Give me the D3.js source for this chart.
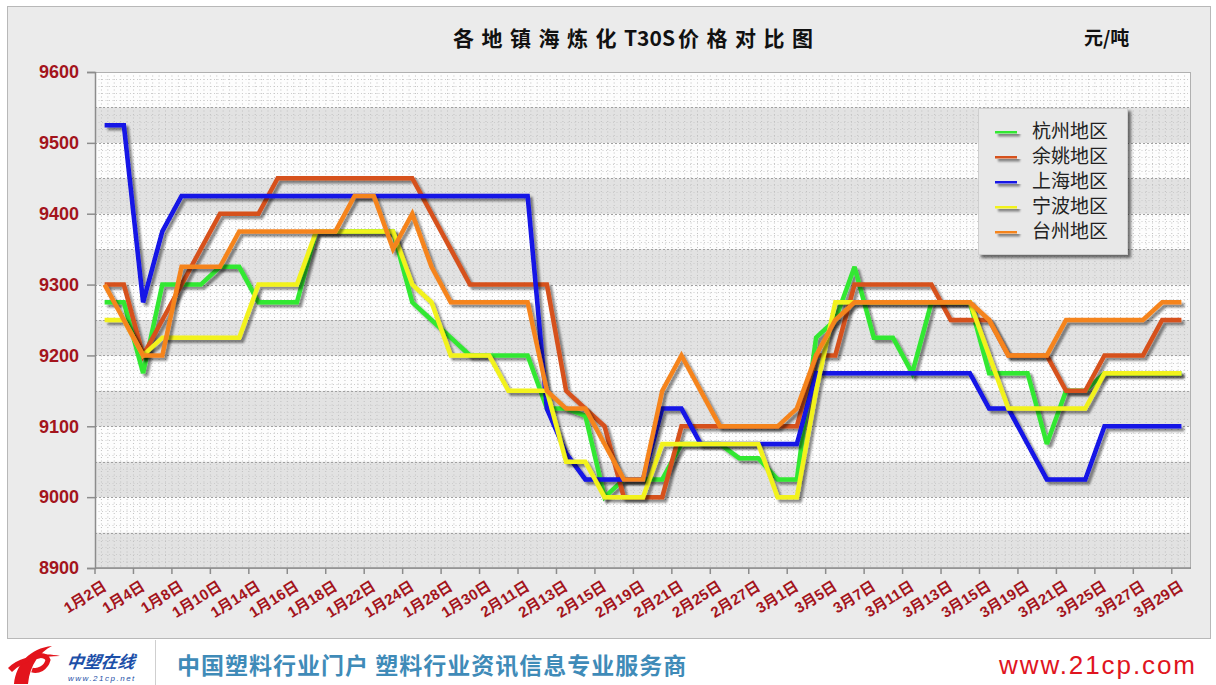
<!DOCTYPE html>
<html><head><meta charset="utf-8">
<script src="https://cdn.jsdelivr.net/npm/d3@7"></script>
<style>body{margin:0;background:#fff;} svg{display:block;}</style>
</head><body><svg id="c" width="1216" height="685"></svg>
<script>
const categories = ["1月2日","1月3日","1月4日","1月7日","1月8日","1月9日","1月10日","1月11日","1月14日","1月15日","1月16日","1月17日","1月18日","1月21日","1月22日","1月23日","1月24日","1月25日","1月28日","1月29日","1月30日","1月31日","2月11日","2月12日","2月13日","2月14日","2月15日","2月18日","2月19日","2月20日","2月21日","2月22日","2月25日","2月26日","2月27日","2月28日","3月1日","3月4日","3月5日","3月6日","3月7日","3月8日","3月11日","3月12日","3月13日","3月14日","3月15日","3月18日","3月19日","3月20日","3月21日","3月22日","3月25日","3月26日","3月27日","3月28日","3月29日"];
const seriesNames = ["杭州地区","余姚地区","上海地区","宁波地区","台州地区"];
const hangzhou = [9275,9275,9175,9300,9300,9300,9325,9325,9275,9275,9275,9375,9375,9375,9375,9375,9275,9250,9225,9200,9200,9200,9200,9125,9125,9115,9000,9025,9025,9025,9075,9075,9075,9055,9055,9025,9025,9225,9250,9325,9225,9225,9175,9275,9275,9275,9175,9175,9175,9075,9150,9150,9175,9175,9175,9175,9175];
const yuyao = [9300,9300,9200,9250,9300,9350,9400,9400,9400,9450,9450,9450,9450,9450,9450,9450,9450,9400,9350,9300,9300,9300,9300,9300,9150,9125,9100,9000,9000,9000,9100,9100,9100,9100,9100,9100,9100,9200,9200,9300,9300,9300,9300,9300,9250,9250,9250,9200,9200,9200,9150,9150,9200,9200,9200,9250,9250];
const shanghai = [9525,9525,9275,9375,9425,9425,9425,9425,9425,9425,9425,9425,9425,9425,9425,9425,9425,9425,9425,9425,9425,9425,9425,9125,9062,9025,9025,9025,9025,9125,9125,9075,9075,9075,9075,9075,9075,9175,9175,9175,9175,9175,9175,9175,9175,9175,9125,9125,9075,9025,9025,9025,9100,9100,9100,9100,9100];
const ningbo = [9250,9250,9200,9225,9225,9225,9225,9225,9300,9300,9300,9375,9375,9375,9375,9375,9300,9275,9200,9200,9200,9150,9150,9150,9050,9050,9000,9000,9000,9075,9075,9075,9075,9075,9075,9000,9000,9150,9275,9275,9275,9275,9275,9275,9275,9275,9200,9125,9125,9125,9125,9125,9175,9175,9175,9175,9175];
const taizhou = [9300,9250,9200,9200,9325,9325,9325,9375,9375,9375,9375,9375,9375,9425,9425,9350,9400,9325,9275,9275,9275,9275,9275,9150,9125,9125,9075,9025,9025,9150,9200,9150,9100,9100,9100,9100,9125,9200,9250,9275,9275,9275,9275,9275,9275,9275,9250,9200,9200,9200,9250,9250,9250,9250,9250,9275,9275];
const seriesValues = [hangzhou, yuyao, shanghai, ningbo, taizhou];
const seriesColors = ["#33e833","#d6511d","#1212e6","#f2f21c","#f5841f"];
const yTicks = [8900,9000,9100,9200,9300,9400,9500,9600];
const titleParts = ["各地镇海炼化","T30S","价格对比图"];
const unitLabel = "元/吨";

const svg = d3.select("#c");
const L = 95, R = 1191, T = 72, B = 568;
const x = d3.scalePoint().domain(d3.range(categories.length)).range([L, R]).padding(0.5);
const y = d3.scaleLinear().domain([8900, 9600]).range([B, T]);
const step = x.step();

const defs = svg.append("defs");
const f = defs.append("filter").attr("id","sh").attr("filterUnits","userSpaceOnUse")
  .attr("x",0).attr("y",0).attr("width",1216).attr("height",685);
f.append("feGaussianBlur").attr("in","SourceAlpha").attr("stdDeviation",1.3);
f.append("feOffset").attr("dx",2.5).attr("dy",3).attr("result","o");
f.append("feComponentTransfer").append("feFuncA").attr("type","linear").attr("slope",0.45);
const fm = f.append("feMerge"); fm.append("feMergeNode"); fm.append("feMergeNode").attr("in","SourceGraphic");

const f2 = defs.append("filter").attr("id","bsh").attr("filterUnits","userSpaceOnUse")
  .attr("x",0).attr("y",0).attr("width",1216).attr("height",685);
f2.append("feGaussianBlur").attr("in","SourceAlpha").attr("stdDeviation",1.5);
f2.append("feOffset").attr("dx",3).attr("dy",3);
f2.append("feComponentTransfer").append("feFuncA").attr("type","linear").attr("slope",0.55);
const fm2 = f2.append("feMerge"); fm2.append("feMergeNode"); fm2.append("feMergeNode").attr("in","SourceGraphic");

// background
svg.append("rect").attr("width",1216).attr("height",685).attr("fill","#fff");
svg.append("rect").attr("x",7.5).attr("y",6.5).attr("width",1203).attr("height",632)
  .attr("fill","#ebebeb").attr("stroke","#b8b8b8");

// plot bands
const bands = d3.range(8900, 9600, 50);
svg.append("g").selectAll("rect").data(bands).join("rect")
  .attr("x",L).attr("width",R-L)
  .attr("y",d=>y(d+50)).attr("height",d=>y(d)-y(d+50))
  .attr("fill",d=>d%100===0?"#e2e2e2":"#fdfdfd");

// fine dotted grid
const grid = svg.append("g");
grid.selectAll("line.v").data(d3.range(1, categories.length*3)).join("line")
  .attr("x1",k=>L+k*step/3).attr("x2",k=>L+k*step/3).attr("y1",T).attr("y2",B)
  .attr("stroke","#c0c0c0").attr("stroke-width",1).attr("stroke-dasharray","1,2.5");
grid.selectAll("line.h").data(d3.range(8910, 9600, 10).filter(v=>v%50!==0)).join("line")
  .attr("x1",L).attr("x2",R).attr("y1",d=>Math.round(y(d))+0.5).attr("y2",d=>Math.round(y(d))+0.5)
  .attr("stroke","#cccccc").attr("stroke-width",1).attr("stroke-dasharray","1,2.5");
grid.selectAll("line.m").data(d3.range(8950, 9600, 50)).join("line")
  .attr("x1",L).attr("x2",R).attr("y1",d=>Math.round(y(d))+0.5).attr("y2",d=>Math.round(y(d))+0.5)
  .attr("stroke","#a0a0a0").attr("stroke-width",1).attr("stroke-dasharray","2,2");

// plot frame
svg.append("rect").attr("x",L+0.5).attr("y",T+0.5).attr("width",R-L-1).attr("height",B-T)
  .attr("fill","none").attr("stroke","#b0b0b0");

// y axis
const ya = svg.append("g").attr("transform",`translate(${L},0)`)
  .call(d3.axisLeft(y).tickValues(yTicks).tickSize(8).tickPadding(8).tickFormat(d3.format("d")));
ya.select(".domain").attr("stroke","#8c8c8c").attr("stroke-width",1.5);
ya.selectAll(".tick line").attr("stroke","#8c8c8c").attr("stroke-width",1.5);
ya.selectAll(".tick text").attr("fill","#a3141c").attr("font-family","'Liberation Sans',Arial,sans-serif")
  .attr("font-weight","bold").attr("font-size",18);

// x axis
const xa = svg.append("g");
xa.append("line").attr("x1",L).attr("x2",R).attr("y1",B).attr("y2",B).attr("stroke","#8c8c8c").attr("stroke-width",1.5);
const tickIdx = d3.range(0, categories.length, 2);
xa.selectAll("line.t").data(tickIdx).join("line")
  .attr("x1",i=>x(i)-step/2).attr("x2",i=>x(i)-step/2).attr("y1",B).attr("y2",B+6)
  .attr("stroke","#8c8c8c").attr("stroke-width",1.5);
xa.selectAll("text").data(tickIdx).join("text")
  .attr("transform",i=>`translate(${x(i)+3},${B+21}) rotate(-32)`)
  .attr("text-anchor","end")
  .attr("fill","#a3141c").attr("font-family","'Liberation Sans','Noto Sans CJK SC',sans-serif")
  .attr("font-weight","bold").attr("font-size",15)
  .text(i=>categories[i]);

// lines
const line = d3.line().x((d,i)=>x(i)).y(d=>y(d));
svg.append("g").selectAll("path").data(seriesValues).join("path")
  .attr("d",line).attr("fill","none")
  .attr("stroke",(d,i)=>seriesColors[i]).attr("stroke-width",4.5)
  .attr("stroke-linejoin","miter").attr("stroke-miterlimit",3)
  .attr("filter","url(#sh)");

// legend
const lg = svg.append("g");
lg.append("rect").attr("x",978.5).attr("y",108.5).attr("width",149).attr("height",146)
  .attr("fill","#e8e8e8").attr("stroke","#cfcfcf").attr("filter","url(#bsh)");
const items = lg.selectAll("g.it").data(seriesNames).join("g")
  .attr("transform",(d,i)=>`translate(0,${131+i*25})`);
items.append("line").attr("x1",995).attr("x2",1017).attr("y1",0).attr("y2",0)
  .attr("stroke",(d,i)=>seriesColors[i]).attr("stroke-width",5).attr("filter","url(#sh)");
items.append("text").attr("x",1032).attr("y",7).attr("font-size",19)
  .attr("font-family","'Noto Sans CJK SC',sans-serif").attr("fill","#222").text(d=>d);

// title
const tt = svg.append("text").attr("x",453).attr("y",46).attr("font-size",21).attr("font-weight","bold")
  .attr("font-family","'Noto Sans CJK SC',sans-serif").attr("fill","#111");
tt.append("tspan").attr("letter-spacing",7.5).text(titleParts[0]);
tt.append("tspan").attr("letter-spacing",0).text(titleParts[1]);
tt.append("tspan").attr("dx",3).attr("letter-spacing",7.5).text(titleParts[2]);
svg.append("text").attr("x",1084).attr("y",45).attr("font-size",19).attr("font-weight","bold")
  .attr("font-family","'Noto Sans CJK SC',sans-serif").attr("fill","#111").text(unitLabel);

// footer
svg.append("line").attr("x1",155.5).attr("x2",155.5).attr("y1",640).attr("y2",685).attr("stroke","#cfcfcf");
const logo = svg.append("g");
logo.append("path").attr("d","M14,684 C16,664 30,648 52,646 C40,652 30,664 28,684 Z").attr("fill","#e3141c");
logo.append("path").attr("d","M8,668 C20,656 44,652 60,656 C44,656 24,660 12,672 Z").attr("fill","#e3141c");
logo.append("path").attr("d","M30,660 C36,654 46,654 48,660 C46,668 38,672 32,670").attr("fill","none").attr("stroke","#e3141c").attr("stroke-width",5);
logo.append("text").attr("x",66).attr("y",668).attr("font-size",17).attr("font-weight","bold").attr("font-style","italic")
  .attr("font-family","'Noto Sans CJK SC',sans-serif").attr("fill","#1c4fa8").attr("transform","skewX(-8) translate(94,0)").text("中塑在线");
logo.append("text").attr("x",68).attr("y",681).attr("font-size",8).attr("font-style","italic")
  .attr("font-family","'Liberation Sans',sans-serif").attr("fill","#1c4fa8").attr("letter-spacing",1.5).text("www.21cp.net");
svg.append("text").attr("x",177).attr("y",674).attr("font-size",23).attr("font-weight","bold")
  .attr("font-family","'Noto Sans CJK SC',sans-serif").attr("fill","#3f8bb8").attr("letter-spacing",1)
  .text("中国塑料行业门户 塑料行业资讯信息专业服务商");
svg.append("text").attr("x",999).attr("y",674).attr("font-size",26)
  .attr("font-family","'Liberation Sans',Arial,sans-serif").attr("fill","#e0141e")
  .attr("textLength",196).attr("lengthAdjust","spacing").text("www.21cp.com");
</script></body></html>
